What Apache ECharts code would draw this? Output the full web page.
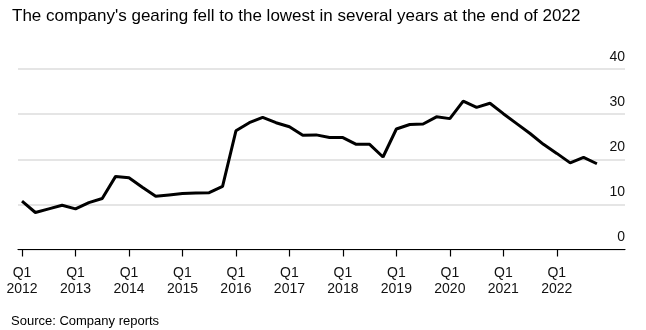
<!DOCTYPE html>
<html>
<head>
<meta charset="utf-8">
<script src="https://cdn.jsdelivr.net/npm/echarts@6/dist/echarts.min.js"></script>
<style>
html,body{margin:0;padding:0;background:#fff;}
#c{width:646px;height:330px;}
</style>
</head>
<body>
<div id="c"></div>
<script>
// Quarterly gearing, Q1 2012 .. Q4 2022
const quarters = [];
for (let y = 2012; y <= 2022; y++) for (let q = 1; q <= 4; q++) quarters.push('Q' + q + ' ' + y);
const gearing = [
  10.7, 8.2, 9.0, 9.8,
  9.0, 10.4, 11.3, 16.2,
  15.9, 13.8, 11.8, 12.1,
  12.4, 12.5, 12.6, 14.0,
  26.3, 28.1, 29.3, 28.1,
  27.2, 25.3, 25.4, 24.8,
  24.8, 23.3, 23.3, 20.5,
  26.7, 27.7, 27.8, 29.4,
  29.0, 32.9, 31.5, 32.4,
  30.1, 27.9, 25.7, 23.3,
  21.3, 19.2, 20.4, 19.0
];
const tickIndices = [0, 4, 8, 12, 16, 20, 24, 28, 32, 36, 40];
const tickLabels = ['Q1\n2012','Q1\n2013','Q1\n2014','Q1\n2015','Q1\n2016','Q1\n2017','Q1\n2018','Q1\n2019','Q1\n2020','Q1\n2021','Q1\n2022'];
const yTicks = [0, 10, 20, 30, 40];

const font = '"Liberation Sans", Arial, sans-serif';
const chart = echarts.init(document.getElementById('c'), null, {renderer: 'canvas'});
chart.setOption({
  animation: false,
  backgroundColor: '#fff',
  title: [{
    text: "The company's gearing fell to the lowest in several years at the end of 2022",
    left: 7, top: 3,
    textStyle: {fontFamily: font, fontSize: 17, fontWeight: 'normal', color: '#000'}
  }, {
    text: 'Source: Company reports',
    left: 6, top: 310,
    textStyle: {fontFamily: font, fontSize: 13, fontWeight: 'normal', color: '#000'}
  }],
  grid: {left: 18, right: 21, top: 69, bottom: 80.5},
  xAxis: {
    type: 'value',
    min: -0.3, max: 45.1,
    splitLine: {show: false},
    axisLine: {show: true, lineStyle: {color: '#000', width: 1.2}},
    axisTick: {show: true, customValues: tickIndices, length: 7, lineStyle: {color: '#000', width: 1.2}},
    axisLabel: {
      customValues: tickIndices,
      formatter: function (v) { const i = tickIndices.indexOf(Math.round(v)); return i >= 0 ? tickLabels[i] : ''; },
      fontFamily: font, fontSize: 14, color: '#111', lineHeight: 15.5, margin: 16
    }
  },
  yAxis: {
    type: 'value',
    position: 'right',
    min: 0, max: 40,
    axisLabel: {
      customValues: yTicks,
      inside: true, align: 'right', verticalAlign: 'bottom', margin: 0,
      padding: [0, 0, 5, 0],
      fontFamily: font, fontSize: 14, color: '#111'
    },
    axisLine: {show: false},
    axisTick: {show: false},
    splitLine: {lineStyle: {color: '#dcdcdc', width: 1.5}},
    interval: 10
  },
  series: [{
    type: 'line',
    data: gearing.map((v, i) => [i, v]),
    showSymbol: false,
    lineStyle: {color: '#000', width: 3},
    itemStyle: {color: '#000'}
  }]
});
</script>
</body>
</html>
